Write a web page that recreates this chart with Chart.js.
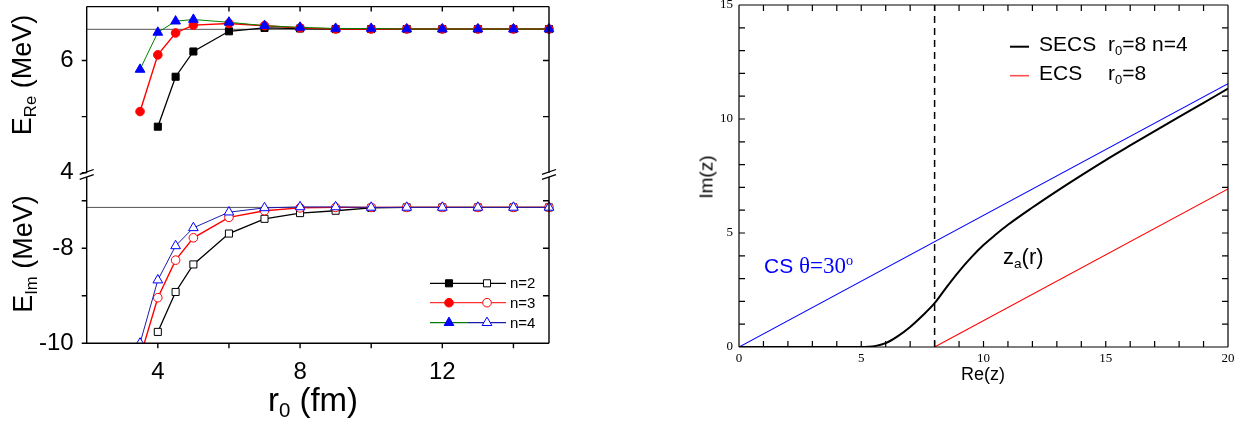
<!DOCTYPE html>
<html>
<head>
<meta charset="utf-8">
<script src="https://cdn.jsdelivr.net/npm/chart.js@4.4.0/dist/chart.umd.min.js"></script>
<style>
body { margin: 0; background: #fff; }
#page { position: relative; width: 1247px; height: 423px; overflow: hidden; font-family: "Liberation Sans", Arial, sans-serif; color: #000; }
canvas { position: absolute; }
.t { position: absolute; white-space: nowrap; line-height: 1; }
.rot { transform: translate(-50%, -50%) rotate(-90deg); }
.sub { font-size: 0.62em; position: relative; top: 0.3em; }
.sup { font-size: 0.62em; position: relative; top: -0.55em; }
.serif { font-family: "Liberation Serif", "Times New Roman", serif; }
</style>
</head>
<body>
<div id="page">
  <canvas id="reChart" width="570" height="190" style="left:0;top:0;width:570px;height:190px"></canvas>
  <canvas id="imChart" width="570" height="258" style="left:0;top:165px;width:570px;height:258px"></canvas>
  <canvas id="zChart" width="557" height="423" style="left:690px;top:0;width:557px;height:423px"></canvas>

  <div class="t rot" style="left:22px;top:75px;font-size:27px">E<span class="sub">Re</span> (MeV)</div>
  <div class="t rot" style="left:23px;top:254px;font-size:27px">E<span class="sub">Im</span> (MeV)</div>
  <div class="t" style="left:313px;top:383px;font-size:33px;transform:translateX(-50%)">r<span class="sub">0</span> (fm)</div>

  <div class="t rot" style="left:706px;top:177px;font-size:19px">Im(z)</div>
  <div class="t" style="left:983px;top:365px;font-size:18px;transform:translateX(-50%)">Re(z)</div>

  <div class="t" style="left:1039px;top:33px;font-size:21px">SECS</div>
  <div class="t" style="left:1108px;top:33px;font-size:21px">r<span class="sub">0</span>=8 n=4</div>
  <div class="t" style="left:1039px;top:62px;font-size:21px">ECS</div>
  <div class="t" style="left:1108px;top:62px;font-size:21px">r<span class="sub">0</span>=8</div>

  <div class="t" style="left:764px;top:254px;font-size:21px;color:#0000ff">CS <span class="serif" style="font-size:23px">&theta;=30<span class="sup">o</span></span></div>
  <div class="t" style="left:1003px;top:246px;font-size:22px">z<span class="sub">a</span>(r)</div>
</div>

<script>
// values
const R0_N2 = [4, 4.5, 5, 6, 7, 8, 9, 10, 11, 12, 13, 14, 15];
const R0_N34 = [3.5, 4, 4.5, 5, 6, 7, 8, 9, 10, 11, 12, 13, 14, 15];

const ERE_N2 = [4.82, 5.71, 6.16, 6.52, 6.58, 6.57, 6.56, 6.56, 6.56, 6.56, 6.56, 6.56, 6.56];
const ERE_N3 = [5.09, 6.10, 6.49, 6.63, 6.66, 6.62, 6.58, 6.56, 6.56, 6.56, 6.56, 6.56, 6.56, 6.56];
const ERE_N4 = [5.84, 6.50, 6.70, 6.73, 6.68, 6.62, 6.59, 6.57, 6.57, 6.56, 6.56, 6.56, 6.56, 6.56];

const EIM_N2 = [-9.76, -8.92, -8.34, -7.69, -7.38, -7.26, -7.21, -7.15, -7.14, -7.14, -7.14, -7.14, -7.14];
const EIM_N3 = [-10.3, -9.04, -8.25, -7.78, -7.35, -7.21, -7.15, -7.14, -7.14, -7.14, -7.14, -7.14, -7.14, -7.14];
const EIM_N4 = [-10.0, -8.67, -7.95, -7.57, -7.24, -7.15, -7.13, -7.13, -7.14, -7.14, -7.14, -7.14, -7.14, -7.14];

const ERE_LIMIT = 6.555;
const EIM_LIMIT = -7.14;

const R0_RANGE = [2, 15];
const ERE_RANGE = [4, 6.96];
const EIM_RANGE = [-10, -6.5];
const R0_TICKS = [4, 8, 12];
const R0_MINOR = [4, 6, 8, 10, 12, 14];
const ERE_TICKS = [4, 6];
const ERE_MINOR = [4, 5, 6];
const EIM_TICKS = [-8, -10];
const EIM_MINOR = [-7, -8, -9, -10];

// right panel: contour paths
const CS_RE = [0, 20];
const CS_IM = [0, 11.55];
const ECS_RE = [8, 20];
const ECS_IM = [0, 6.93];
const SECS_RE = [0, 4.9, 5.3, 5.6, 6.0, 6.5, 7.0, 7.5, 8.0, 8.5, 9.0, 9.5, 10.0, 10.5, 11, 12, 13, 14, 15, 16, 17, 18, 19, 20];
const SECS_IM = [0, 0, 0.01, 0.05, 0.17, 0.48, 0.88, 1.37, 1.92, 2.64, 3.32, 3.93, 4.47, 4.93, 5.36, 6.12, 6.84, 7.53, 8.2, 8.84, 9.47, 10.09, 10.71, 11.33];
const R0_MARK = 8;
const RE_TICKS = [0, 5, 10, 15, 20];
const IM_TICKS = [0, 5, 10, 15];
const RE_MINOR = [1, 2, 3, 4, 5, 6, 7, 8, 9, 10, 11, 12, 13, 14, 15, 16, 17, 18, 19];
const IM_MINOR = [1, 2, 3, 4, 5, 6, 7, 8, 9, 10, 11, 12, 13, 14];

const SANS = '"Liberation Sans", Arial, sans-serif';
const SERIF = '"Liberation Serif", "Times New Roman", serif';
const N4_LINE = '#1c1ca8';

const pts = (xs, ys) => xs.map((x, i) => ({ x: x, y: ys[i] }));

function drawMarker(ctx, style, x, y, r, fill, stroke) {
    ctx.beginPath();
    if (style === 'rect') {
        const s = Math.SQRT1_2 * r;
        ctx.rect(x - s, y - s, 2 * s, 2 * s);
    } else if (style === 'circle') {
        ctx.arc(x, y, r, 0, Math.PI * 2);
    } else {
        ctx.moveTo(x, y - r);
        ctx.lineTo(x + 0.866 * r, y + 0.5 * r);
        ctx.lineTo(x - 0.866 * r, y + 0.5 * r);
        ctx.closePath();
    }
    ctx.fillStyle = fill;
    ctx.fill();
    ctx.lineWidth = 1;
    ctx.strokeStyle = stroke;
    ctx.stroke();
}

// frame, tick marks, axis breaks and hand-made legends
const decor = {
    id: 'decor',
    afterDatasetsDraw(chart, args, opts) {
        const ctx = chart.ctx;
        const a = chart.chartArea;
        ctx.save();
        ctx.strokeStyle = '#000';
        ctx.lineWidth = opts.frameWidth || 1;
        ctx.beginPath();
        (opts.sides || []).forEach(s => {
            if (s === 'left') { ctx.moveTo(a.left, a.top); ctx.lineTo(a.left, a.bottom); }
            if (s === 'right') { ctx.moveTo(a.right, a.top); ctx.lineTo(a.right, a.bottom); }
            if (s === 'top') { ctx.moveTo(a.left, a.top); ctx.lineTo(a.right, a.top); }
            if (s === 'bottom') { ctx.moveTo(a.left, a.bottom); ctx.lineTo(a.right, a.bottom); }
        });
        (opts.marks || []).forEach(m => {
            const scale = chart.scales[m.axis];
            m.values.forEach(v => {
                const p = scale.getPixelForValue(v);
                const d = m.len * (m.inward ? 1 : -1);
                if (m.side === 'top') { ctx.moveTo(p, a.top); ctx.lineTo(p, a.top + d); }
                if (m.side === 'bottom') { ctx.moveTo(p, a.bottom); ctx.lineTo(p, a.bottom - d); }
                if (m.side === 'left') { ctx.moveTo(a.left, p); ctx.lineTo(a.left + d, p); }
                if (m.side === 'right') { ctx.moveTo(a.right, p); ctx.lineTo(a.right - d, p); }
            });
        });
        ctx.stroke();

        if (opts.breakMarks) {
            ctx.lineWidth = 1.3;
            ctx.beginPath();
            [a.left, a.right].forEach(x => {
                [a.bottom - 0.8, a.bottom + 4.3].forEach(y => {
                    ctx.moveTo(x - 7, y + 2.4);
                    ctx.lineTo(x + 7, y - 2.4);
                });
            });
            ctx.stroke();
        }

        (opts.legendRows || []).forEach(row => {
            ctx.lineWidth = row.width || 1.3;
            row.segments.forEach(seg => {
                ctx.strokeStyle = seg.color;
                ctx.beginPath();
                ctx.moveTo(seg.from, row.y);
                ctx.lineTo(seg.to, row.y);
                ctx.stroke();
            });
            (row.markers || []).forEach(mk => drawMarker(ctx, mk.style, mk.x, row.y, mk.r, mk.fill, mk.stroke));
            if (row.text) {
                ctx.fillStyle = '#000';
                ctx.font = '15px ' + SANS;
                ctx.textBaseline = 'middle';
                ctx.fillText(row.text, row.textX, row.y + 1);
            }
        });
        ctx.restore();
    }
};

// fixed axis boxes so the plot areas land where the figure has them
function fixedWidth(w) {
    return s => { s.width = w; s.paddingTop = 0; s.paddingBottom = 0; s.paddingLeft = 0; s.paddingRight = 0; };
}
function fixedHeight(h) {
    return s => { s.height = h; s.paddingTop = 0; s.paddingBottom = 0; s.paddingLeft = 0; s.paddingRight = 0; };
}
function setTicks(list) { return s => { s.ticks = list.map(v => ({ value: v })); }; }

function seriesSet(kind, n2, n3, n4, limit) {
    const filled = kind === 'filled';
    return [
        {
            data: pts(R0_N34, n4), showLine: true,
            borderColor: filled ? '#008000' : N4_LINE, borderWidth: 1,
            pointStyle: 'triangle', pointRadius: 5.6,
            pointBackgroundColor: filled ? '#0000ff' : '#ffffff', pointBorderColor: '#0000ff', pointBorderWidth: 1
        },
        {
            data: pts(R0_N34, n3), showLine: true,
            borderColor: '#ff0000', borderWidth: 1.4,
            pointStyle: 'circle', pointRadius: 4.3,
            pointBackgroundColor: filled ? '#ff0000' : '#ffffff', pointBorderColor: '#ff0000', pointBorderWidth: 1
        },
        {
            data: pts(R0_N2, n2), showLine: true,
            borderColor: '#000000', borderWidth: 1.3,
            pointStyle: 'rect', pointRadius: 5,
            pointBackgroundColor: filled ? '#000000' : '#ffffff', pointBorderColor: '#000000', pointBorderWidth: 1
        },
        {
            data: pts(R0_RANGE, [limit, limit]), showLine: true,
            borderColor: '#555555', borderWidth: 1, pointRadius: 0
        }
    ];
}

const baseOptions = {
    responsive: false,
    animation: false,
    events: [],
    plugins: { legend: { display: false }, tooltip: { enabled: false } },
    elements: { line: { tension: 0 } }
};

// upper left: real part
new Chart(document.getElementById('reChart'), {
    type: 'scatter',
    data: { datasets: seriesSet('filled', ERE_N2, ERE_N3, ERE_N4, ERE_LIMIT).map(d => Object.assign(d, { clip: false })) },
    options: Object.assign({}, baseOptions, {
        layout: { padding: { left: 0, right: 21, top: 4, bottom: 17.3 } },
        scales: {
            x: { type: 'linear', display: false, min: R0_RANGE[0], max: R0_RANGE[1], afterFit: fixedHeight(0) },
            y: {
                type: 'linear', min: ERE_RANGE[0], max: ERE_RANGE[1],
                afterFit: fixedWidth(86.7), afterBuildTicks: setTicks(ERE_TICKS),
                grid: { display: false, drawTicks: false }, border: { display: false },
                ticks: { padding: 13, color: '#000', font: { family: SANS, size: 24 } }
            }
        },
        plugins: Object.assign({}, baseOptions.plugins, {
            decor: {
                frameWidth: 1.4, sides: ['left', 'top', 'right'], breakMarks: true,
                marks: [
                    { axis: 'y', side: 'left', values: ERE_MINOR, len: 5, inward: false },
                    { axis: 'y', side: 'right', values: ERE_MINOR.filter(v => v > 4), len: 6, inward: true },
                    { axis: 'x', side: 'top', values: R0_MINOR, len: 5, inward: true }
                ]
            }
        })
    }),
    plugins: [decor]
});

// lower left: imaginary part
new Chart(document.getElementById('imChart'), {
    type: 'scatter',
    data: { datasets: seriesSet('open', EIM_N2, EIM_N3, EIM_N4, EIM_LIMIT).map(d => Object.assign(d, { clip: { left: 10, right: 10, top: 10, bottom: 0 } })) },
    options: Object.assign({}, baseOptions, {
        layout: { padding: { left: 0, right: 21, top: 12, bottom: 39.7 } },
        scales: {
            x: {
                type: 'linear', min: R0_RANGE[0], max: R0_RANGE[1],
                afterFit: fixedHeight(40), afterBuildTicks: setTicks(R0_TICKS),
                grid: { display: false, drawTicks: false }, border: { display: false },
                ticks: { padding: 15, color: '#000', font: { family: SANS, size: 24 } }
            },
            y: {
                type: 'linear', min: EIM_RANGE[0], max: EIM_RANGE[1],
                afterFit: fixedWidth(86.7), afterBuildTicks: setTicks(EIM_TICKS),
                grid: { display: false, drawTicks: false }, border: { display: false },
                ticks: { padding: 13, color: '#000', font: { family: SANS, size: 24 } }
            }
        },
        plugins: Object.assign({}, baseOptions.plugins, {
            decor: {
                frameWidth: 1.4, sides: ['left', 'bottom', 'right'],
                marks: [
                    { axis: 'y', side: 'left', values: EIM_MINOR, len: 5, inward: false },
                    { axis: 'y', side: 'right', values: EIM_MINOR.filter(v => v > -10), len: 6, inward: true },
                    { axis: 'x', side: 'bottom', values: R0_MINOR, len: 5, inward: false }
                ],
                legendRows: [
                    { y: 118.3, textX: 510, text: 'n=2', segments: [{ from: 430, to: 506, color: '#000' }],
                      markers: [{ style: 'rect', x: 449, r: 5, fill: '#000', stroke: '#000' }, { style: 'rect', x: 487, r: 5, fill: '#fff', stroke: '#000' }] },
                    { y: 137.7, textX: 510, text: 'n=3', segments: [{ from: 430, to: 506, color: '#ff3030' }],
                      markers: [{ style: 'circle', x: 449, r: 4.3, fill: '#ff0000', stroke: '#ff0000' }, { style: 'circle', x: 487, r: 4.3, fill: '#fff', stroke: '#ff0000' }] },
                    { y: 157.7, textX: 510, text: 'n=4', segments: [{ from: 430, to: 468, color: '#008000' }, { from: 468, to: 506, color: N4_LINE }],
                      markers: [{ style: 'triangle', x: 449, r: 5.6, fill: '#0000ff', stroke: '#0000ff' }, { style: 'triangle', x: 487, r: 5.6, fill: '#fff', stroke: '#0000ff' }] }
                ]
            }
        })
    }),
    plugins: [decor]
});

// right: complex scaling contours
new Chart(document.getElementById('zChart'), {
    type: 'scatter',
    data: {
        datasets: [
            { data: pts(SECS_RE, SECS_IM), showLine: true, borderColor: '#000', borderWidth: 2, pointRadius: 0, cubicInterpolationMode: 'monotone' },
            { data: pts([R0_MARK, R0_MARK], [0, 15]), showLine: true, borderColor: '#000', borderWidth: 1.5, borderDash: [7, 5], pointRadius: 0 },
            { data: pts(CS_RE, CS_IM), showLine: true, borderColor: '#0000ff', borderWidth: 1.1, pointRadius: 0 },
            { data: pts(ECS_RE, ECS_IM), showLine: true, borderColor: '#ff0000', borderWidth: 1.1, pointRadius: 0 }
        ]
    },
    options: Object.assign({}, baseOptions, {
        layout: { padding: { left: 0, right: 19, top: 5, bottom: 56 } },
        scales: {
            x: {
                type: 'linear', min: 0, max: 20,
                afterFit: fixedHeight(20), afterBuildTicks: setTicks(RE_TICKS),
                grid: { display: false, drawTicks: false }, border: { display: false },
                ticks: { padding: 4, color: '#000', font: { family: SERIF, size: 13 } }
            },
            y: {
                type: 'linear', min: 0, max: 15,
                afterFit: fixedWidth(49), afterBuildTicks: setTicks(IM_TICKS),
                grid: { display: false, drawTicks: false }, border: { display: false },
                ticks: { padding: 6, color: '#000', font: { family: SERIF, size: 13 } }
            }
        },
        plugins: Object.assign({}, baseOptions.plugins, {
            decor: {
                frameWidth: 1.2, sides: ['left', 'right', 'top', 'bottom'],
                marks: [
                    { axis: 'x', side: 'bottom', values: RE_MINOR, len: 6, inward: true },
                    { axis: 'x', side: 'top', values: RE_MINOR, len: 6, inward: true },
                    { axis: 'y', side: 'left', values: IM_MINOR, len: 6, inward: true },
                    { axis: 'y', side: 'right', values: IM_MINOR, len: 6, inward: true }
                ],
                legendRows: [
                    { y: 46.7, width: 2, segments: [{ from: 320, to: 339, color: '#000' }] },
                    { y: 75.7, width: 1.6, segments: [{ from: 320, to: 339, color: '#ff5050' }] }
                ]
            }
        })
    }),
    plugins: [decor]
});
</script>
</body>
</html>
